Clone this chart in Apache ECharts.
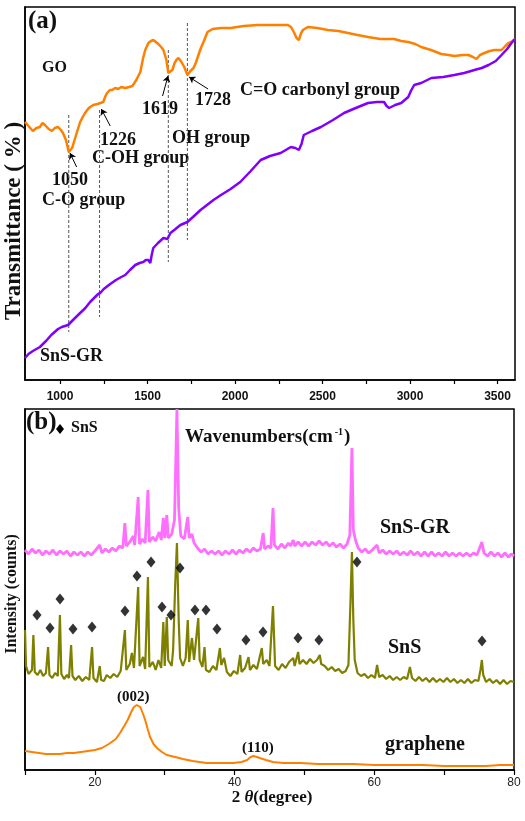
<!DOCTYPE html>
<html><head><meta charset="utf-8">
<script src="https://cdn.jsdelivr.net/npm/echarts@6/dist/echarts.min.js"></script>
<style>html,body{margin:0;padding:0;background:#fff}#c{width:525px;height:821px}</style>
</head><body><div id="c"></div>
<script>
// ---------- panel (a): FTIR ----------
const ftirLabelTicks = [1000, 1500, 2000, 2500, 3000, 3500];
const ftirTickMarks = [1000, 1250, 1500, 1750, 2000, 2250, 2500, 2750, 3000, 3250, 3500];
const goFtir = [[800,258],[820,254],[845,249],[865,252],[885,253],[900,257],[914,255],[935,251],[954,249],[970,252],[989,253],[1005,250],[1017,247],[1034,240],[1050,228],[1069,232],[1092,245],[1115,258],[1130,263],[1143,267],[1160,271],[1172,273],[1190,275],[1201,276],[1215,276],[1226,274],[1247,278],[1260,284],[1269,287],[1285,290],[1298,290],[1315,292],[1333,291],[1350,293],[1373,292],[1395,293],[1413,294],[1425,297],[1436,300],[1459,308],[1475,322],[1487,330],[1505,337],[1520,339],[1533,340],[1548,338],[1562,336],[1578,333],[1591,330],[1608,320],[1619,307],[1630,308],[1642,310],[1655,317],[1665,320],[1677,322],[1694,318],[1710,313],[1728,305],[1745,309],[1763,312],[1778,318],[1791,325],[1805,332],[1820,338],[1843,348],[1872,351],[1920,352],[1975,352],[2050,354],[2130,355],[2220,355],[2302,355],[2320,353],[2336,348],[2352,342],[2365,340],[2378,347],[2388,350],[2416,353],[2470,352],[2531,350],[2590,349],[2646,347],[2700,345],[2760,343],[2830,341],[2909,341],[2950,339],[2990,338],[3030,336],[3064,333],[3120,330],[3179,326],[3220,325],[3253,324],[3300,325],[3334,325],[3360,323],[3380,321],[3400,325],[3425,327],[3455,329],[3483,330],[3523,330],[3545,334],[3563,337],[3585,339],[3600,341]];
const snsgrFtir = [[800,22],[820,26],[845,29],[865,31],[885,33],[920,39],[950,45],[989,51],[1010,53],[1046,55],[1080,61],[1115,67],[1145,72],[1172,78],[1195,82],[1218,86],[1230,87],[1250,91],[1287,96],[1320,100],[1350,103],[1373,105],[1400,110],[1430,115],[1455,117],[1476,118],[1490,120],[1505,120],[1516,117],[1524,125],[1533,132],[1560,137],[1591,142],[1600,142],[1614,141],[1631,147],[1660,151],[1688,155],[1728,158],[1760,163],[1803,170],[1840,175],[1877,180],[1920,185],[1975,191],[2030,198],[2090,209],[2147,220],[2200,224],[2261,227],[2319,233],[2345,232],[2365,230],[2380,236],[2393,245],[2440,249],[2491,253],[2560,260],[2623,267],[2690,272],[2760,277],[2810,278],[2852,278],[2866,274],[2881,272],[2915,275],[2950,277],[2990,283],[3005,289],[3024,295],[3064,297],[3122,302],[3190,303],[3253,305],[3310,307],[3368,310],[3410,312],[3449,315],[3490,319],[3523,325],[3555,331],[3580,337],[3600,341]];
const bandWavenumbers = [1050, 1226, 1619, 1728];
const bandLineTop = [265, 270, 330, 357];
const bandLineBottom = [48, 63, 118, 140];
const arrowFrom = [[1095,213],[1287,254],[1586,284],[1846,291]];
const arrowTo = [[1057,227],[1236,271],[1617,304],[1738,303]];

// ---------- panel (b): XRD ----------
const xrdLabelTicks = [20, 40, 60, 80];
const xrdSnSGR = [[10.0,220],[10.5,216],[11.0,221],[11.5,217],[12.0,220],[12.5,215],[13.0,219],[13.5,216],[14.0,220],[14.5,215],[15.0,219],[15.5,216],[16.0,219],[16.5,214],[17.0,218],[17.5,215],[18.0,218],[18.5,214],[19.0,218],[19.5,215],[20.0,219],[20.7,225],[21.0,217],[21.5,221],[22.0,218],[22.5,222],[23.0,219],[23.5,224],[24.0,222],[24.3,247],[24.5,224],[25.0,228],[25.5,234],[25.7,225],[26.2,273],[26.4,226],[26.8,231],[27.2,227],[27.6,280],[27.8,228],[28.3,233],[28.7,229],[29.2,238],[29.5,230],[29.8,252],[30.0,232],[30.3,255],[30.5,232],[31.0,236],[31.4,250],[31.75,361],[32.0,262],[32.3,234],[32.8,231],[33.3,253],[33.5,232],[33.9,236],[34.2,227],[34.7,222],[35.2,218],[35.7,221],[36.2,216],[36.7,219],[37.2,216],[37.7,219],[38.2,215],[38.7,219],[39.2,216],[39.7,220],[40.2,216],[40.7,220],[41.2,217],[41.7,221],[42.2,218],[42.7,222],[43.2,219],[43.7,221],[44.1,237],[44.3,221],[44.8,224],[45.2,222],[45.5,262],[45.7,225],[46.2,221],[46.7,226],[47.2,222],[47.7,227],[48.0,224],[48.4,230],[48.6,224],[49.1,228],[49.6,224],[50.1,228],[50.6,224],[51.1,228],[51.6,225],[52.1,229],[52.6,225],[53.1,228],[53.6,224],[54.1,227],[54.6,223],[55.1,226],[55.6,222],[56.1,226],[56.5,235],[56.8,322],[57.0,240],[57.3,230],[57.7,222],[58.2,218],[58.7,221],[59.2,217],[59.7,220],[60.4,225],[60.7,217],[61.2,220],[61.7,216],[62.2,219],[62.7,216],[63.2,219],[63.7,215],[64.2,218],[64.7,215],[65.2,219],[65.7,215],[66.2,218],[66.7,214],[67.2,218],[67.7,214],[68.2,218],[68.7,214],[69.2,217],[69.7,214],[70.2,218],[70.7,214],[71.2,217],[71.7,214],[72.2,217],[72.7,214],[73.2,217],[73.7,214],[74.2,217],[74.7,215],[75.4,228],[75.7,217],[76.2,214],[76.7,218],[77.2,214],[77.7,217],[78.2,213],[78.7,217],[79.2,213],[79.6,216],[80.0,214]];
const xrdSnS = [[10.0,140],[10.15,104],[10.5,96],[11.0,100],[11.2,135],[11.4,98],[11.8,95],[12.2,100],[12.6,94],[13.0,97],[13.3,123],[13.5,95],[13.9,92],[14.3,97],[14.7,94],[15.0,155],[15.2,96],[15.6,91],[16.0,95],[16.3,92],[16.6,125],[16.8,94],[17.2,90],[17.7,94],[18.2,89],[18.7,93],[19.2,90],[19.6,123],[19.8,92],[20.3,88],[20.7,104],[20.9,90],[21.3,89],[21.7,95],[22.2,92],[22.7,96],[23.2,93],[23.7,99],[24.3,140],[24.5,100],[25.0,106],[25.3,117],[25.6,102],[26.2,183],[26.4,104],[26.9,113],[27.2,101],[27.6,193],[27.8,103],[28.3,108],[28.7,100],[29.1,110],[29.5,102],[29.8,148],[30.0,104],[30.3,153],[30.5,110],[31.0,104],[31.2,120],[31.5,185],[31.75,227],[32.0,150],[32.2,112],[32.6,104],[33.0,112],[33.3,150],[33.5,108],[33.9,132],[34.2,110],[34.8,152],[35.0,110],[35.4,103],[35.7,123],[35.9,100],[36.4,98],[36.9,104],[37.4,100],[37.9,122],[38.1,105],[38.5,112],[38.9,98],[39.4,94],[39.9,99],[40.4,96],[40.8,115],[41.0,98],[41.5,102],[42.0,113],[42.2,100],[42.7,105],[43.2,101],[43.9,122],[44.1,106],[44.6,110],[45.0,104],[45.5,164],[45.8,104],[46.3,100],[46.8,106],[47.3,102],[47.8,108],[48.4,112],[48.6,104],[49.1,118],[49.3,106],[49.8,110],[50.3,106],[50.8,111],[51.3,107],[51.8,110],[52.2,115],[52.4,106],[52.9,104],[53.4,100],[53.9,103],[54.4,99],[54.9,101],[55.4,97],[55.9,99],[56.3,105],[56.6,170],[56.8,218],[57.0,150],[57.2,110],[57.6,97],[58.1,94],[58.6,96],[59.1,92],[59.6,95],[60.1,92],[60.4,105],[60.7,93],[61.2,95],[61.7,91],[62.2,94],[62.7,90],[63.2,93],[63.7,90],[64.2,93],[64.7,91],[65.1,103],[65.4,92],[65.9,89],[66.4,93],[66.9,89],[67.4,92],[67.9,88],[68.4,92],[68.9,88],[69.4,91],[69.9,88],[70.4,92],[70.9,88],[71.4,91],[71.9,87],[72.4,90],[72.9,87],[73.4,91],[73.9,87],[74.4,90],[74.9,89],[75.2,100],[75.4,110],[75.6,95],[76.0,88],[76.5,91],[77.0,87],[77.5,90],[78.0,86],[78.5,90],[79.0,86],[79.5,89],[80.0,88]];
const xrdGraphene = [[10,19],[11,18],[12,17],[13,16],[14,16],[15,16],[16,17],[17,17],[18,18],[19,19],[20,20],[21,22],[22,26],[23,31],[23.6,37],[24.2,44],[24.7,50],[25.2,58],[25.6,63],[26,65],[26.5,63],[26.9,56],[27.2,50],[27.6,40],[27.9,33],[28.4,26],[28.9,22],[29.6,18],[30.3,15],[31.5,13],[32.6,11],[34,9],[36,7],[38,7],[39.8,7],[41,8],[41.8,10],[42.3,13],[42.7,14],[43.2,13],[43.6,12],[44.5,10],[45.5,8],[47,7],[49.4,7],[52,6],[54,6],[57,6],[60,5],[63.7,5],[67,5],[70,4],[73.3,4],[76,4],[78,5],[80,5]];
const snsDiamonds = [[11.72,155],[13.58,142],[15.01,171],[16.87,141],[19.59,143],[24.31,159],[26.03,194],[28.04,208],[29.61,163],[30.90,155],[32.19,202],[34.33,160],[35.91,160],[37.48,141],[41.63,130],[44.07,138],[49.08,132],[52.08,130],[57.52,208],[75.42,129]];

const SERIF = '"Liberation Serif","Times New Roman",serif';
const SANS = '"Liberation Sans",Arial,sans-serif';

const chart = echarts.init(document.getElementById('c'), null, {renderer: 'canvas'});

const bandSeries = bandWavenumbers.map((w, i) => ({
  type: 'line', xAxisIndex: 0, yAxisIndex: 0, symbol: 'none', silent: true,
  data: [[w, bandLineTop[i]], [w, bandLineBottom[i]]],
  lineStyle: {color: '#555', width: 1, type: [3, 2]}, z: 1
}));

function txt(x, y, text, size, weight) {
  return {type: 'text', x: x, y: y,
    style: {text: text, fill: '#111', font: (weight || 'bold') + ' ' + size + 'px ' + SERIF, textAlign: 'left', textVerticalAlign: 'middle'}};
}

chart.setOption({
  animation: false,
  backgroundColor: '#fff',
  grid: [
    {left: 25, top: 7, width: 490, height: 373, show: true, borderColor: '#000', borderWidth: 1.5, backgroundColor: 'transparent'},
    {left: 25, top: 409, width: 489, height: 361, show: true, borderColor: '#000', borderWidth: 1.5, backgroundColor: 'transparent'}
  ],
  xAxis: [
    {type: 'value', gridIndex: 0, min: 800, max: 3600,
      axisLine: {show: true, lineStyle: {color: '#000', width: 1.5}},
      axisTick: {show: true, length: 4, lineStyle: {color: '#000', width: 1.2}, customValues: ftirTickMarks},
      axisLabel: {show: true, customValues: ftirLabelTicks, formatter: v => String(v), color: '#111', fontFamily: SANS, fontWeight: 'bold', fontSize: 12, margin: 11},
      splitLine: {show: false}},
    {type: 'value', gridIndex: 1, min: 10, max: 80, interval: 10,
      axisLine: {show: true, lineStyle: {color: '#000', width: 1.5}},
      axisTick: {show: true, length: 5, lineStyle: {color: '#000', width: 1.2}},
      axisLabel: {show: true, customValues: xrdLabelTicks, formatter: v => String(v), color: '#222', fontFamily: SANS, fontSize: 12, margin: 7},
      splitLine: {show: false}}
  ],
  yAxis: [
    {type: 'value', gridIndex: 0, min: 0, max: 373, axisLine: {show: true, lineStyle: {color: '#000', width: 1.5}}, axisTick: {show: false}, axisLabel: {show: false}, splitLine: {show: false}},
    {type: 'value', gridIndex: 1, min: 0, max: 361, axisLine: {show: true, lineStyle: {color: '#000', width: 1.5}}, axisTick: {show: false}, axisLabel: {show: false}, splitLine: {show: false}}
  ],
  series: [
    ...bandSeries,
    {name: 'GO', type: 'line', xAxisIndex: 0, yAxisIndex: 0, data: goFtir, symbol: 'none', z: 3,
      lineStyle: {color: '#FF8000', width: 2.5},
      markLine: {silent: true, symbol: ['none', 'arrow'], symbolSize: 6, label: {show: false},
        lineStyle: {color: '#000', width: 1, type: 'solid'},
        data: arrowFrom.map((f, i) => [{coord: f}, {coord: arrowTo[i]}])}},
    {name: 'SnS-GR FTIR', type: 'line', xAxisIndex: 0, yAxisIndex: 0, data: snsgrFtir, symbol: 'none', z: 3,
      lineStyle: {color: '#8000FF', width: 2.5}},
    {name: 'SnS-GR', type: 'line', xAxisIndex: 1, yAxisIndex: 1, data: xrdSnSGR, symbol: 'none', z: 3,
      lineStyle: {color: '#FF6EFF', width: 2.8}},
    {name: 'SnS', type: 'line', xAxisIndex: 1, yAxisIndex: 1, data: xrdSnS, symbol: 'none', z: 4,
      lineStyle: {color: '#808000', width: 2.2}},
    {name: 'graphene', type: 'line', xAxisIndex: 1, yAxisIndex: 1, data: xrdGraphene, symbol: 'none', z: 3,
      lineStyle: {color: '#FF8000', width: 2}},
    {name: 'SnS peaks', type: 'scatter', xAxisIndex: 1, yAxisIndex: 1, data: snsDiamonds, symbol: 'diamond', symbolSize: [9, 11], z: 5,
      itemStyle: {color: '#000'}}
  ],
  graphic: [
    txt(28, 22, '(a)', 25),
    txt(42, 68, 'GO', 16),
    txt(52, 180, '1050', 18, '600'),
    txt(42, 200, 'C-O group', 18),
    txt(100, 140, '1226', 18, '600'),
    txt(92, 158, 'C-OH group', 18),
    txt(142, 109, '1619', 18, '600'),
    txt(172, 138, 'OH group', 18),
    txt(195, 100, '1728', 18, '600'),
    txt(240, 90, 'C=O carbonyl group', 18),
    txt(40, 356, 'SnS-GR', 18),
    {type: 'text', x: 14, y: 221, rotation: Math.PI / 2,
      style: {text: 'Transmittance ( % )', fill: '#111', font: 'bold 23px ' + SERIF, textAlign: 'center', textVerticalAlign: 'middle'}},
    txt(26, 423, '(b)', 25),
    {type: 'polygon', shape: {points: [[60, 424], [64, 429], [60, 434], [56, 429]]}, style: {fill: '#000'}},
    txt(71, 428, 'SnS', 16),
    {type: 'text', x: 185, y: 437,
      style: {text: '{a|Wavenumbers(cm}{s|-1}{a|)}', textVerticalAlign: 'middle', fill: '#111',
        rich: {a: {font: 'bold 19px ' + SERIF, fill: '#111'}, s: {font: 'bold 10px ' + SERIF, fill: '#111', padding: [0, 1, 10, 2]}}}},
    txt(380, 528, 'SnS-GR', 20),
    txt(388, 648, 'SnS', 20),
    txt(385, 745, 'graphene', 20),
    txt(117, 697, '(002)', 15),
    txt(242, 748, '(110)', 15),
    {type: 'text', x: 12, y: 594, rotation: Math.PI / 2,
      style: {text: 'Intensity (counts)', fill: '#111', font: 'bold 16px ' + SERIF, textAlign: 'center', textVerticalAlign: 'middle'}},
    {type: 'text', x: 272, y: 798,
      style: {text: '{a|2 }{i|θ}{a|(degree)}', textAlign: 'center', textVerticalAlign: 'middle',
        rich: {a: {font: 'bold 17px ' + SERIF, fill: '#111'}, i: {font: 'italic bold 17px ' + SERIF, fill: '#111'}}}}
  ]
});
</script>
</body></html>
